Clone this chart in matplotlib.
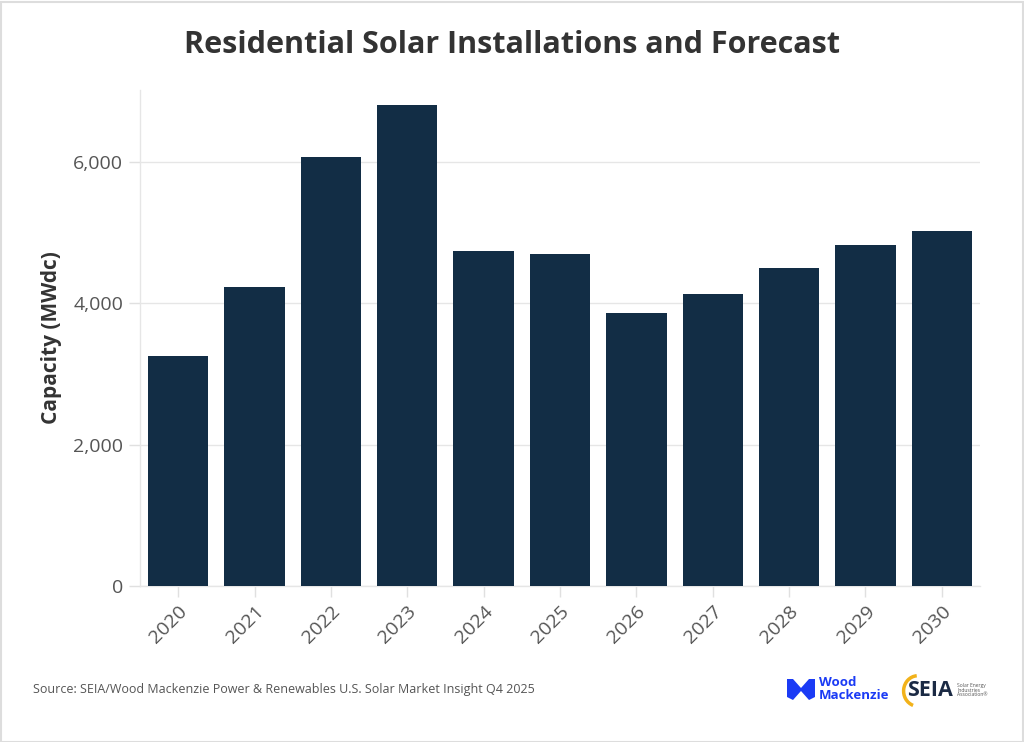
import matplotlib
matplotlib.use("Agg")
import matplotlib.pyplot as plt
from matplotlib.patches import Rectangle, Arc, Polygon
import numpy as np

years = ["2020", "2021", "2022", "2023", "2024", "2025", "2026", "2027", "2028", "2029", "2030"]
capacity = [3262, 4227, 6071, 6809, 4738, 4695, 3858, 4128, 4496, 4823, 5021]
yticks = [0, 2000, 4000, 6000]
ytick_labels = ["0", "2,000", "4,000", "6,000"]

FONT = ["Open Sans", "DejaVu Sans"]
plt.rcParams['font.family'] = FONT

W, H = 1024, 742
fig = plt.figure(figsize=(W / 100, H / 100), dpi=100)
fig.patch.set_facecolor("white")

ax = fig.add_axes([140 / W, 1 - 586 / H, 840 / W, (586 - 90) / H])
x = np.arange(len(years))
ax.bar(x, capacity, width=0.79, color="#122d45", zorder=3)
ax.set_xlim(-0.5, len(years) - 0.5)
ax.set_ylim(0, 7020)
ax.set_yticks(yticks)
ax.set_yticklabels(ytick_labels)
ax.set_xticks(x)
ax.set_xticklabels(years, rotation=45, ha="right", rotation_mode="anchor")
ax.grid(axis="y", color="#e6e6e6", linewidth=1, zorder=0)
for s in ["top", "right"]:
    ax.spines[s].set_visible(False)
for s in ["left", "bottom"]:
    ax.spines[s].set_color("#e6e6e6")
    ax.spines[s].set_linewidth(1)
ax.tick_params(axis="both", colors="#e0e0e0", length=8, width=1, labelsize=14, labelcolor="#555555")
ax.tick_params(axis="x", pad=4)
ax.tick_params(axis="y", pad=4)
ax.set_ylabel("Capacity (MWdc)", fontsize=15, fontweight="bold", color="#333333", labelpad=8)

fig.text(512 / W, 1 - 45 / H, "Residential Solar Installations and Forecast",
         ha="center", va="center", fontsize=22, fontweight="bold", color="#333333")
fig.text(33 / W, 1 - 690 / H,
         "Source: SEIA/Wood Mackenzie Power & Renewables U.S. Solar Market Insight Q4 2025",
         ha="left", va="center", fontsize=9, color="#555555")

# border
fig.add_artist(Rectangle((0.5 / W, 0.5 / H), (W - 2) / W, (H - 2) / H, transform=fig.transFigure,
                         fill=False, edgecolor="#dddddd", linewidth=1.5))

# Wood Mackenzie logo
blue = "#1b3bf5"
def fx(px): return px / W
def fy(py): return 1 - py / H
icon = [(787, 679), (793, 679), (801, 688), (809, 679), (815, 679), (815, 697), (809, 700), (801, 691), (793, 700), (787, 697)]
fig.add_artist(Polygon([(fx(a), fy(b)) for a, b in icon], closed=True, transform=fig.transFigure,
                       facecolor=blue, edgecolor="none"))
fig.text(fx(819), fy(689), "Wood\nMackenzie", ha="left", va="center", fontsize=9.5,
         fontweight="bold", color=blue, linespacing=0.95)

# SEIA logo
arc_ax = fig.add_axes([fx(898), fy(708), fx(930) - fx(898), fy(674) - fy(708)])
arc_ax.set_xlim(-1, 1); arc_ax.set_ylim(-1, 1); arc_ax.axis("off")
arc_ax.add_patch(Arc((0.25, 0), 1.8, 1.8, theta1=95, theta2=250, color="#f2b21a", linewidth=2.5))
fig.text(fx(907), fy(691), "SEIA", ha="left", va="center", fontsize=15.5, fontweight="bold", color="#1b2a44")
fig.text(fx(957), fy(690), "Solar Energy\nIndustries\nAssociation\u00ae", ha="left", va="center",
         fontsize=3.6, color="#555555", linespacing=1.0)

fig.savefig("out.png", dpi=100, facecolor="white")
